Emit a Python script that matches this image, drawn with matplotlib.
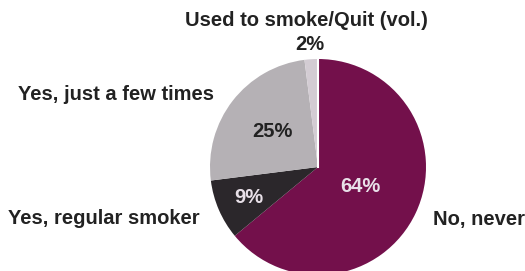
import numpy as np
import matplotlib
matplotlib.use("Agg")
import matplotlib.pyplot as plt

categories = ["No, never", "Yes, regular smoker", "Yes, just a few times", "Used to smoke/Quit (vol.)"]
values = [64, 9, 25, 2]
colors = ["#73104b", "#2b272b", "#b5b1b5", "#d3ccd3"]
pct_colors = ["#e8e0e8", "#e8e0e8", "#222222", "#222222"]
pct_dist = [0.43, 0.70, 0.53, 1.14]

plt.rcParams['font.family'] = ['Liberation Sans', 'DejaVu Sans']

W, H = 525, 271
fig = plt.figure(figsize=(W / 100, H / 100), dpi=100)
ax = fig.add_axes([0, 0, 1, 1])

cx, cy, R = 318, H - 167, 108
wedges, _ = ax.pie(values, colors=colors, startangle=90, counterclock=False,
                   center=(cx, cy), radius=R, frame=True,
                   wedgeprops=dict(linewidth=0))
ax.set_xlim(0, W)
ax.set_ylim(0, H)
ax.set_aspect('equal')
ax.axis('off')

# white separator between "few times" and "used to smoke" slices
a = np.deg2rad(wedges[3].theta1)
ax.plot([cx, cx + R * np.cos(a)], [cy, cy + R * np.sin(a)], color='white', lw=1.5)

fs = 14.5
for w, v, c, d in zip(wedges, values, pct_colors, pct_dist):
    ang = np.deg2rad((w.theta1 + w.theta2) / 2)
    ax.text(cx + d * R * np.cos(ang), cy + d * R * np.sin(ang), f"{v}%",
            ha='center', va='center', fontsize=fs, fontweight='bold', color=c)

fig.text(306 / W, 1 - 20 / H, categories[3], ha='center', va='center', fontsize=fs, fontweight='bold', color='#222222')
fig.text(18 / W, 1 - 95 / H, categories[2], ha='left', va='center', fontsize=fs, fontweight='bold', color='#222222')
fig.text(8 / W, 1 - 218 / H, categories[1], ha='left', va='center', fontsize=fs, fontweight='bold', color='#222222')
fig.text(433 / W, 1 - 220 / H, categories[0], ha='left', va='center', fontsize=fs, fontweight='bold', color='#222222')

fig.savefig("out.png", dpi=100)
